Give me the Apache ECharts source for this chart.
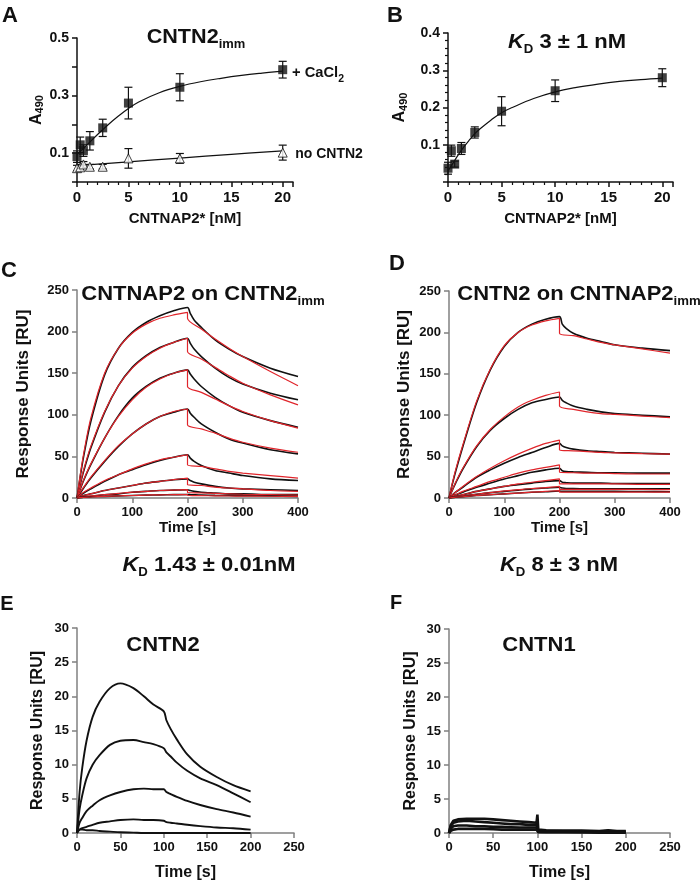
<!DOCTYPE html>
<html><head><meta charset="utf-8">
<script src="https://cdn.jsdelivr.net/npm/echarts@6/dist/echarts.min.js"></script>
<style>html,body{margin:0;padding:0;background:#fff}#c{width:700px;height:884px}</style>
</head><body><div id="c"></div>
<script>
// ---------- Panel A / B (ELISA) ----------
const conc = [0, 0.3125, 0.625, 1.25, 2.5, 5, 10, 20];
const aCa = [0.088, 0.129, 0.109, 0.143, 0.188, 0.274, 0.329, 0.39];
const aCaErr = [0.02, 0.027, 0.02, 0.032, 0.03, 0.055, 0.047, 0.029];
const aNo = [0.048, 0.051, 0.061, 0.053, 0.053, 0.082, 0.082, 0.102];
const aNoErr = [0.01, 0.01, 0.01, 0.008, 0.008, 0.034, 0.017, 0.026];
const aFitX = [0, 1, 2, 3, 4, 5, 6, 8, 10, 12, 14, 16, 18, 20];
const aFitCa = [0.095, 0.13, 0.165, 0.198, 0.228, 0.255, 0.278, 0.31, 0.332, 0.348, 0.36, 0.37, 0.378, 0.385];
const aFitNoX = [0, 5, 10, 15, 20];
const aFitNo = [0.057, 0.07, 0.083, 0.096, 0.108];

const bY = [0.037, 0.084, 0.048, 0.09, 0.133, 0.19, 0.245, 0.28];
const bErr = [0.016, 0.015, 0.008, 0.016, 0.015, 0.039, 0.029, 0.024];
const bFitX = [0, 0.5, 1, 1.5, 2, 2.5, 3, 4, 5, 6, 8, 10, 12, 14, 16, 18, 20];
const bFitY = [0.03, 0.052, 0.075, 0.095, 0.113, 0.13, 0.143, 0.166, 0.186, 0.2, 0.224, 0.242, 0.254, 0.263, 0.27, 0.275, 0.279];

// ---------- Panel C / D (SPR, black data + red fits) ----------
const tBlack = [0,5,12,25,50,75,100,125,150,175,200,205,212,225,250,275,300,350,400];
const tRed   = [0,5,12,25,50,75,100,125,150,175,200,200,225,250,275,300,350,400];

const cBlack1 = [0,22,50,92,148,180,199,211,219,225,229,222,214,205,190,179,170,156,146];
const cRed1   = [0,24,53,96,150,180,198,209,216,220,223,216,203,191,180,170,152,135];
const cBlack2 = [0,14,32,60,103,135,157,171,181,187,192,186,179,170,156,145,137,126,118];
const cRed2   = [0,15,34,62,104,135,156,170,180,187,192,176,167,157,147,138,124,112];
const cBlack3 = [0,9,21,40,72,99,120,134,144,150,154,149,143,134,121,111,103,93,85];
const cRed3   = [0,10,22,41,72,98,118,133,143,150,154,134,127,119,111,104,93,84];
const cBlack4 = [0,5,12,24,44,62,77,89,98,103,107,102,97,89,79,71,66,58,53];
const cRed4   = [0,6,13,25,45,63,77,89,98,104,107,88,83,78,72,67,60,55];
const cBlack5 = [0,3,6,11,20,28,34,40,45,49,52,48,44,39,33,30,27,23,21];
const cRed5   = [0,3,7,12,21,28,35,41,46,49,52,40,38,35,32,30,27,24];
const cBlack6 = [0,1.5,3,5,9,12,15,18,20,22,23,21,19,17,14,12,11,10,9];
const cRed6   = [0,2,3,5,9,12,15,18,20,22,24,16,15,13,12,11,9,8];
const cBlack7 = [0,1,1.5,2,4,5,7,8,9,9.5,10,9,8,7,6,5,5,4,4];
const cRed7   = [0,1,1.5,2.5,4,5.5,7,8,9,9.5,10,6.5,6,5.5,5,4.5,4,3.5];
const cBlack8 = [0,0.5,1,1.5,2,2.5,3,3.5,3.8,4,4.2,4,3.8,3.5,3.2,3,2.8,2.5,2];
const cRed8   = [0,0.5,0.8,1.2,2,2.5,3,3.5,3.8,4,4.2,3,2.8,2.6,2.4,2.3,2.1,1.9];

const dBlack1 = [0,14,32,62,115,155,183,200,210,216,219,210,205,199,193,189,185,181,178];
const dRed1   = [0,15,34,64,117,156,184,200,209,214,217,199,196,192,188,185,180,175];
const dBlack2 = [0,8,18,35,62,82,96,107,115,119,122,118,115,111,107,104,102,100,98];
const dRed2   = [0,8,19,36,63,83,98,110,118,124,128,111,107,104,102,101,99,97];
const dBlack3 = [0,3,7,13,25,34,42,49,55,61,66,63,61,59,57,56,55,54,53];
const dRed3   = [0,3,7,14,26,36,45,53,60,66,70,58,57,56,55,54.5,53.5,53];
const dBlack4 = [0,2,4,7,13,18,23,27,31,34,36,33,32,31.5,31,30.5,30.5,30,30];
const dRed4   = [0,2,4,8,14,20,25,30,34,37,40,31,30.5,30,30,29.5,29,29];
const dBlack5 = [0,1,2,4,8,11,14,16,18,20,21,19,18.5,18,18,18,17.5,17.5,17.5];
const dRed5   = [0,1,2,4,8,11,14,17,19,21,23,17,17,17,17,17,16.5,16.5];
const dBlack6 = [0,1,1.5,2.5,4.5,6.5,8,9.5,11,12,13,12,11.5,11.5,11,11,11,11,11];
const dRed6   = [0,1,1.5,2.5,4.5,6.5,8.5,10,11.5,12.5,14,10.5,10.5,10.5,10.5,10.5,10.5,10];
const dBlack7 = [0,0.5,1,1.5,3,4,5,6,7,7.5,8.5,8,8,8,8,8,8,7.8,7.6];
const dRed7   = [0,0.5,1,1.5,3,4,5,6,7,8,9,7,7,7,7,7,7,7];

// ---------- Panel E / F ----------
const tE = [0,3,6,11,18,26,38,50,65,77,88,100,103,108,115,127,142,161,180,200];
const e1 = [0,6,9.5,13.5,17,19.2,21.2,21.9,21.2,20,18.8,17.8,16.5,15.2,13.7,11.5,9.7,8.2,7,6.1];
const e2 = [0,3.5,5.5,8,10,11.4,12.9,13.5,13.6,13.3,13,12.4,11.8,11.2,10.3,9.1,8,7,5.8,4.5];
const e3 = [0,1.5,2.2,3.2,4,4.8,5.5,6,6.4,6.5,6.4,6.4,6,5.7,5.3,4.7,4.1,3.5,3,2.4];
const e4 = [0,0.5,0.7,0.9,1.2,1.5,1.7,1.9,2,1.9,1.9,1.8,1.6,1.5,1.4,1.2,1,0.8,0.7,0.5];
const e5 = [0,0.5,0.5,0.4,0.4,0.3,0.2,0.1,0.05,0,0,0,0,0,0,0,0,0,0,0];

const tF = [0,2,5,10,20,30,40,50,60,70,80,90,99,100,101,110,130,150,170,180,190,200];
const f1 = [0,1.2,1.8,2,2.1,2.1,2.1,2,1.9,1.8,1.7,1.6,1.5,2.7,0.5,0.4,0.35,0.35,0.3,0.4,0.3,0.3];
const f2 = [0,1,1.5,1.7,1.8,1.7,1.6,1.5,1.4,1.3,1.3,1.2,1.2,1.2,0.3,0.3,0.25,0.25,0.2,0.3,0.2,0.2];
const f3 = [0,0.6,1,1.1,1.1,1,1,0.9,0.9,0.85,0.8,0.8,0.8,0.8,0.2,0.15,0.15,0.1,0.1,0.1,0.1,0.1];
const f4 = [0,0.3,0.5,0.6,0.6,0.6,0.6,0.55,0.5,0.5,0.5,0.5,0.5,0.5,0.1,0.1,0.1,0.1,0.05,0.05,0.05,0.05];

// ---------- build ----------
const FONT = '"Liberation Sans", Arial, Helvetica, sans-serif';
const BLK = '#111';
const RED = '#e0252b';
const GRAY = '#808080';
const pairs = (xs, ys) => xs.map((x, i) => [x, ys[i]]);
const triples = (xs, ys, es) => xs.map((x, i) => [x, ys[i], es[i]]);

const chart = echarts.init(document.getElementById('c'), null, {renderer: 'canvas'});

const lblStyle = (size) => ({fontFamily: FONT, fontWeight: 'bold', fontSize: size, color: BLK});
const nameStyle = (size) => ({fontFamily: FONT, fontWeight: 'bold', fontSize: size, color: BLK,
  rich: {m: {fontFamily: FONT, fontWeight: 'bold', fontSize: 16, color: BLK},
         s: {fontFamily: FONT, fontWeight: 'bold', fontSize: 11, color: BLK, padding: [8, 0, 0, 0]}}});

function xAx(g, min, max, interval, color, name, gap, size, nsize, minor) {
  return {gridIndex: g, type: 'value', min, max, interval,
    axisLine: {lineStyle: {color, width: 1.5}},
    axisTick: {length: 5, lineStyle: {color, width: 1.5}},
    minorTick: minor ? {show: true, splitNumber: minor, length: 3, lineStyle: {color, width: 1.2}} : {show: false},
    splitLine: {show: false},
    axisLabel: {...lblStyle(size), margin: 8, showMaxLabel: max % interval === 0},
    name, nameLocation: 'middle', nameGap: gap, nameTextStyle: nameStyle(nsize)};
}
function yAx(g, min, max, interval, color, name, gap, size, nsize, minor, fmt) {
  return {gridIndex: g, type: 'value', min, max, interval,
    axisLine: {show: true, lineStyle: {color, width: 1.5}},
    axisTick: {show: true, length: 5, lineStyle: {color, width: 1.5}},
    minorTick: minor ? {show: true, splitNumber: minor, length: 3, lineStyle: {color, width: 1.2}} : {show: false},
    splitLine: {show: false},
    axisLabel: {...lblStyle(size), margin: 8, formatter: fmt},
    name, nameLocation: 'middle', nameGap: gap, nameRotate: 90, nameTextStyle: nameStyle(nsize)};
}

const errSeries = (xi, yi, data) => ({
  type: 'custom', xAxisIndex: xi, yAxisIndex: yi, clip: false, z: 3,
  data,
  renderItem: (params, api) => {
    const x = api.value(0), y = api.value(1), e = api.value(2);
    const t = api.coord([x, y + e]), b = api.coord([x, y - e]);
    const st = {stroke: BLK, lineWidth: 1.2};
    return {type: 'group', children: [
      {type: 'line', shape: {x1: t[0], y1: t[1], x2: b[0], y2: b[1]}, style: st},
      {type: 'line', shape: {x1: t[0] - 4, y1: t[1], x2: t[0] + 4, y2: t[1]}, style: st},
      {type: 'line', shape: {x1: b[0] - 4, y1: b[1], x2: b[0] + 4, y2: b[1]}, style: st}
    ]};
  }
});
const lineS = (xi, data, color, width, smooth) => ({
  type: 'line', xAxisIndex: xi, yAxisIndex: xi, data, showSymbol: false, symbol: 'none',
  smooth: smooth, lineStyle: {color, width}, clip: false, animation: false
});

const series = [];
// A
series.push(lineS(0, pairs(aFitX, aFitCa), BLK, 1.2, 0.4));
series.push(lineS(0, pairs(aFitNoX, aFitNo), BLK, 1.2, 0.4));
series.push(errSeries(0, 0, triples(conc, aCa, aCaErr)));
series.push(errSeries(0, 0, triples(conc, aNo, aNoErr)));
series.push({type: 'scatter', xAxisIndex: 0, yAxisIndex: 0, data: pairs(conc, aCa), symbol: 'rect', symbolSize: 9,
  itemStyle: {color: BLK}, clip: false, z: 5});
series.push({type: 'scatter', xAxisIndex: 0, yAxisIndex: 0, data: pairs(conc, aNo), symbol: 'triangle', symbolSize: 9,
  itemStyle: {color: '#fff', borderColor: BLK, borderWidth: 1}, clip: false, z: 5});
// B
series.push(lineS(1, pairs(bFitX, bFitY), BLK, 1.2, 0.4));
series.push(errSeries(1, 1, triples(conc, bY, bErr)));
series.push({type: 'scatter', xAxisIndex: 1, yAxisIndex: 1, data: pairs(conc, bY), symbol: 'rect', symbolSize: 9,
  itemStyle: {color: BLK}, clip: false, z: 5});
// C
[[cBlack1, cRed1], [cBlack2, cRed2], [cBlack3, cRed3], [cBlack4, cRed4], [cBlack5, cRed5], [cBlack6, cRed6], [cBlack7, cRed7], [cBlack8, cRed8]]
  .forEach(([b, r]) => { series.push(lineS(2, pairs(tBlack, b), BLK, 1.6, 0.3)); series.push(lineS(2, pairs(tRed, r), RED, 1.2, 0.3)); });
// D
[[dBlack1, dRed1], [dBlack2, dRed2], [dBlack3, dRed3], [dBlack4, dRed4], [dBlack5, dRed5], [dBlack6, dRed6], [dBlack7, dRed7]]
  .forEach(([b, r]) => { series.push(lineS(3, pairs(tBlack, b), BLK, 1.6, 0.3)); series.push(lineS(3, pairs(tRed, r), RED, 1.2, 0.3)); });
// E
[e1, e2, e3, e4, e5].forEach(v => series.push(lineS(4, pairs(tE, v), BLK, 1.9, 0.3)));
// F
[f1, f2, f3, f4].forEach(v => series.push(lineS(5, pairs(tF, v), BLK, 2.6, false)));

const T = (x, y, text, size, extra) => ({type: 'text', x, y, silent: true,
  style: Object.assign({text, fill: BLK, font: `bold ${size}px ${FONT}`, align: 'center', verticalAlign: 'middle'}, extra || {})});
const TS = (x, y, text, main, sub, sx) => Object.assign(T(x, y, text, main, {rich: richSub(main, sub)}), {scaleX: sx});
const richSub = (main, sub) => ({
  m: {fontFamily: FONT, fontWeight: 'bold', fontSize: main, fill: BLK, lineHeight: main + 4, verticalAlign: 'bottom'},
  s: {fontFamily: FONT, fontWeight: 'bold', fontSize: sub, fill: BLK, lineHeight: main + 4, verticalAlign: 'bottom', padding: [0, 0, -4, 0]},
  k: {fontFamily: FONT, fontWeight: 'bold', fontStyle: 'italic', fontSize: main, fill: BLK, lineHeight: main + 4, verticalAlign: 'bottom'}
});

const option = {
  backgroundColor: '#fff',
  animation: false,
  grid: [
    {left: 77, top: 38, width: 216, height: 144},
    {left: 448, top: 33, width: 225, height: 149},
    {left: 77, top: 290, width: 221, height: 208},
    {left: 449, top: 291, width: 221, height: 207},
    {left: 77, top: 628, width: 217, height: 205},
    {left: 449, top: 629, width: 221, height: 204}
  ],
  xAxis: [
    xAx(0, 0, 21, 5, BLK, 'CNTNAP2* [nM]', 29, 15, 15, 5),
    xAx(1, 0, 21, 5, BLK, 'CNTNAP2* [nM]', 29, 15, 15, 5),
    xAx(2, 0, 400, 100, GRAY, 'Time [s]', 19, 13, 15, 0),
    xAx(3, 0, 400, 100, GRAY, 'Time [s]', 19, 13, 15, 0),
    xAx(4, 0, 250, 50, GRAY, 'Time [s]', 32, 13, 16, 0),
    xAx(5, 0, 250, 50, GRAY, 'Time [s]', 32, 13, 16, 0)
  ],
  yAxis: [
    yAx(0, 0, 0.5, 0.1, BLK, '{m|A}{s|490}', 31, 14, 15, 0, v => (Math.abs(v - 0.1) < 1e-6 || Math.abs(v - 0.3) < 1e-6 || Math.abs(v - 0.5) < 1e-6) ? v.toFixed(1) : ''),
    yAx(1, 0, 0.4, 0.1, BLK, '{m|A}{s|490}', 39, 14, 15, 5, v => v === 0 ? '' : v.toFixed(1)),
    yAx(2, 0, 250, 50, GRAY, 'Response Units [RU]', 45, 13, 17, 0),
    yAx(3, 0, 250, 50, GRAY, 'Response Units [RU]', 36, 13, 17, 0),
    yAx(4, 0, 30, 5, GRAY, 'Response Units [RU]', 31, 13, 16, 0),
    yAx(5, 0, 30, 5, GRAY, 'Response Units [RU]', 30, 13, 16, 0)
  ],
  series,
  graphic: [
    T(10, 16, 'A', 22), T(395, 16, 'B', 22), T(9, 271, 'C', 22), T(397, 264, 'D', 22),
    T(7, 604, 'E', 20), T(396, 603, 'F', 20),
    TS(196, 35, '{m|CNTN2}{s|imm}', 20, 12, 1.08),
    TS(318, 71, '{m|+ CaCl}{s|2}', 14, 10, 1.05),
    T(329, 154, 'no CNTN2', 14),
    TS(567, 40, '{k|K}{s|D}{m| 3 ± 1 nM}', 20, 12, 1.1),
    TS(203, 292, '{m|CNTNAP2 on CNTN2}{s|imm}', 20, 12, 1.1),
    TS(579, 292, '{m|CNTN2 on CNTNAP2}{s|imm}', 20, 12, 1.1),
    TS(209, 563, '{k|K}{s|D}{m| 1.43 ± 0.01nM}', 20, 12, 1.1),
    TS(559, 563, '{k|K}{s|D}{m| 8 ± 3 nM}', 20, 12, 1.1),
    TS(163, 645, 'CNTN2', 20, 12, 1.1),
    TS(539, 645, 'CNTN1', 20, 12, 1.1)
  ]
};
chart.setOption(option);
</script></body></html>
